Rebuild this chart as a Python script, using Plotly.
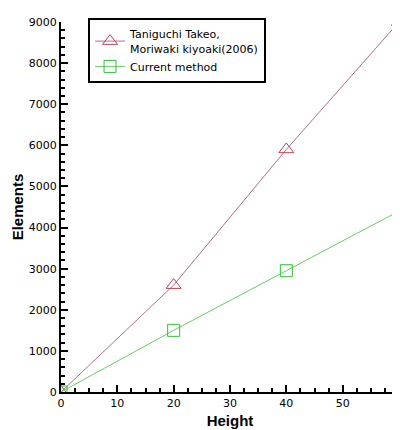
import plotly.graph_objects as go

height = [0, 20, 40, 60]
taniguchi = [0, 2600, 5900, 9000]
current = [0, 1500, 2950, 4400]

fig = go.Figure()
fig.add_trace(go.Scatter(x=height, y=taniguchi, mode='lines+markers',
                         name='Taniguchi Takeo,<br>Moriwaki kiyoaki(2006)',
                         line=dict(color='#b07080', width=1),
                         marker=dict(symbol='triangle-up-open', size=13, color='#c04050', line=dict(width=1))))
fig.add_trace(go.Scatter(x=height, y=current, mode='lines+markers', name='Current method',
                         line=dict(color='#60d060', width=1),
                         marker=dict(symbol='square-open', size=12, color='#30c030', line=dict(width=1))))

axis_font = dict(family='DejaVu Sans', size=11, color='black')
fig.update_xaxes(range=[0, 60], dtick=10, ticks='inside', ticklen=7, tickwidth=2, tickcolor='black',
                 minor=dict(ticks='inside', ticklen=4, dtick=2.5, tickcolor='black'),
                 showline=True, linecolor='black', linewidth=2, showgrid=False, zeroline=False,
                 automargin=False,
                 title=dict(text='<b>Height</b>', font=dict(family='Arial', size=15, color='black'), standoff=6),
                 tickfont=axis_font)
fig.update_yaxes(range=[0, 9000], dtick=1000, ticks='inside', ticklen=7, tickwidth=2, tickcolor='black',
                 minor=dict(ticks='inside', ticklen=4, dtick=200, tickcolor='black'),
                 showline=True, linecolor='black', linewidth=2, showgrid=False, zeroline=False,
                 automargin=False,
                 title=dict(text='<b>Elements</b>', font=dict(family='Arial', size=15, color='black'), standoff=2),
                 tickfont=axis_font)
fig.update_layout(width=400, height=430, plot_bgcolor='white', paper_bgcolor='white',
                  margin=dict(l=53, r=9, t=14, b=46),
                  legend=dict(x=0.08, y=1.01, xanchor='left', yanchor='top', bordercolor='black', borderwidth=2,
                              bgcolor='white', font=dict(family='DejaVu Sans', size=11, color='black'),
                              tracegroupgap=10))
fig.write_html("out.html")
